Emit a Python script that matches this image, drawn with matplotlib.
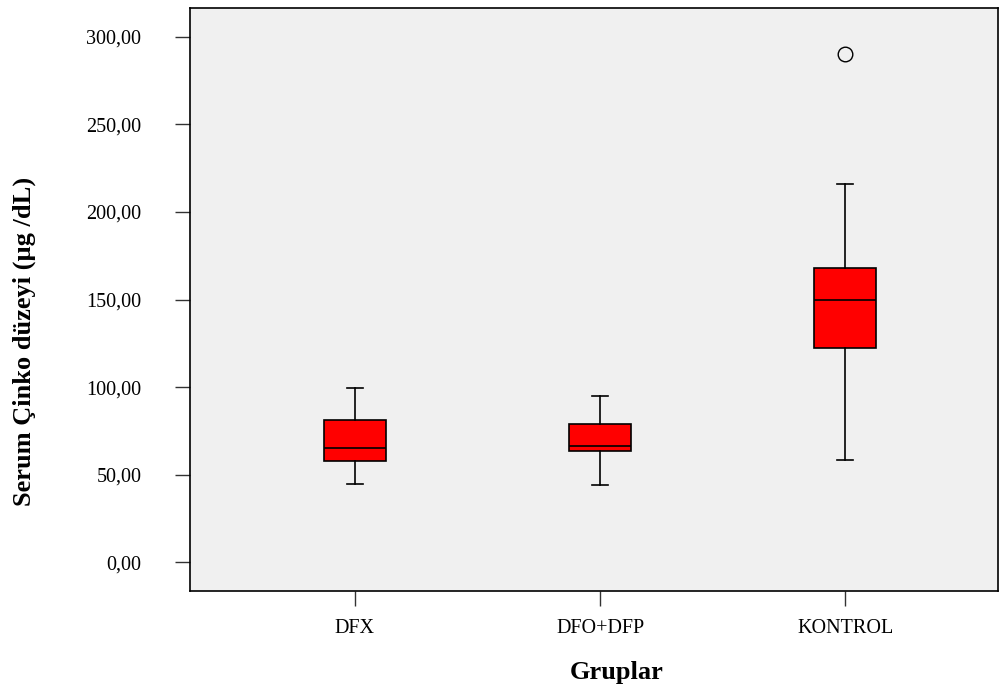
import matplotlib
matplotlib.use("Agg")
import matplotlib.pyplot as plt

groups = ["DFX", "DFO+DFP", "KONTROL"]
whislo = [44.5, 44.3, 58.4]
q1 = [57.9, 63.4, 122.6]
med = [65.1, 66.6, 149.6]
q3 = [81.1, 78.8, 168.1]
whishi = [99.5, 95.1, 215.9]
outliers = [[], [], [290.1]]
yticks = [0, 50, 100, 150, 200, 250, 300]
ytick_labels = ["0,00", "50,00", "100,00", "150,00", "200,00", "250,00", "300,00"]

plt.rcParams['font.family'] = ['Liberation Serif', 'DejaVu Serif']

fig = plt.figure(figsize=(9.99, 6.88), dpi=100)
ax = fig.add_axes([190/999, (688-591)/688, (998-190)/999, (591-7.5)/688])
ax.set_facecolor('#F0F0F0')

stats = []
for i in range(len(groups)):
    stats.append(dict(label=groups[i], whislo=whislo[i], q1=q1[i], med=med[i],
                      q3=q3[i], whishi=whishi[i], fliers=outliers[i]))

positions = [1, 2, 3]
ax.bxp(stats, positions=positions, widths=0.253, capwidths=0.065,
       patch_artist=True,
       boxprops=dict(facecolor='#FF0000', edgecolor='black', linewidth=1.2),
       medianprops=dict(color='black', linewidth=1.2),
       whiskerprops=dict(color='black', linewidth=1.2),
       capprops=dict(color='black', linewidth=1.2),
       flierprops=dict(marker='o', markerfacecolor='none', markeredgecolor='black',
                       markersize=10.5, markeredgewidth=1.0))

ax.set_xlim(0.327, 3.624)
ax.set_ylim(-16.4, 316.8)
ax.set_yticks(yticks)
ax.set_yticklabels(ytick_labels, fontsize=14.5)
ax.set_xticks(positions)
ax.set_xticklabels(groups, fontsize=14.5)
ax.tick_params(axis='y', direction='out', length=11, width=1, pad=24, color='#333333')
ax.tick_params(axis='x', direction='out', length=11, width=1, pad=9, color='#333333')

for s in ax.spines.values():
    s.set_color('black')
    s.set_linewidth(1.2)

ax.set_xlabel("Gruplar", fontsize=19, fontweight='bold')
ax.xaxis.set_label_coords((617-190)/808, (591-672)/583.5)
ax.xaxis.label.set_va('center')
ax.set_ylabel("Serum Çinko düzeyi (µg /dL)", fontsize=19, fontweight='bold')
ax.yaxis.set_label_coords((24-190)/808, (591-341)/583.5)
ax.yaxis.label.set_va('center')

fig.savefig("out.png", dpi=100)
